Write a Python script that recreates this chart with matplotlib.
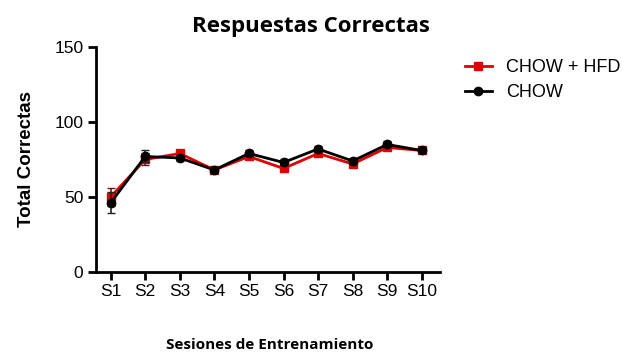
import numpy as np
import matplotlib.pyplot as plt
from matplotlib.lines import Line2D

# Sessions and mean correct responses per group
sessions = ['S1', 'S2', 'S3', 'S4', 'S5', 'S6', 'S7', 'S8', 'S9', 'S10']
chow_hfd = [50, 75, 79, 68, 77, 69, 79, 72, 83, 81]
chow_hfd_err = [6, 4, 2, 2, 2, 2, 2, 2, 2, 2]
chow = [46, 77, 76, 68, 79, 73, 82, 74, 85, 81]
chow_err = [7, 4, 2, 2, 2, 2, 2, 2, 2, 2]

x = np.arange(1, len(sessions) + 1)

fig = plt.figure(figsize=(6.22, 3.54), dpi=100)
ax = fig.add_axes([0.154, 0.232, 0.553, 0.635])

ax.errorbar(x, chow_hfd, yerr=chow_hfd_err, color='#e00000', ecolor='#7a1010',
            marker='s', markersize=6, linewidth=2, capsize=3, elinewidth=1.2,
            zorder=3)
ax.errorbar(x, chow, yerr=chow_err, color='black', ecolor='#222222',
            marker='o', markersize=6, linewidth=2, capsize=3, elinewidth=1.2,
            zorder=4)

ax.set_xlim(0.57, 10.52)
ax.set_ylim(0, 150)
ax.set_yticks([0, 50, 100, 150])
ax.set_xticks(x)
ax.set_xticklabels(sessions)
for lab in ax.get_xticklabels() + ax.get_yticklabels():
    lab.set_fontfamily('Liberation Sans')
    lab.set_fontsize(12.5)
ax.tick_params(width=2, length=6, pad=3)

for side in ['top', 'right']:
    ax.spines[side].set_visible(False)
for side in ['left', 'bottom']:
    ax.spines[side].set_linewidth(2)

fig.text(0.5, 0.925, 'Respuestas Correctas', ha='center', va='center',
         fontsize=16, fontweight='bold', family='Open Sans')
fig.text(0.434, 0.025, 'Sesiones de Entrenamiento', ha='center', va='center',
         fontsize=11, fontweight='bold', family='Open Sans')
ax.set_ylabel('Total Correctas', fontsize=13.5, fontweight='bold',
              family='Liberation Sans', labelpad=14)

# Legend entries without the error-bar glyphs
handles = [
    Line2D([], [], color='#e00000', marker='s', markersize=6, linewidth=2),
    Line2D([], [], color='black', marker='o', markersize=6, linewidth=2),
]
ax.legend(handles, ['CHOW + HFD', 'CHOW'], loc='upper left',
          bbox_to_anchor=(1.025, 1.02), frameon=False,
          prop={'family': 'Liberation Sans', 'size': 13}, handlelength=1.5,
          handletextpad=0.8, labelspacing=0.45)

plt.savefig('out.png', dpi=100)
